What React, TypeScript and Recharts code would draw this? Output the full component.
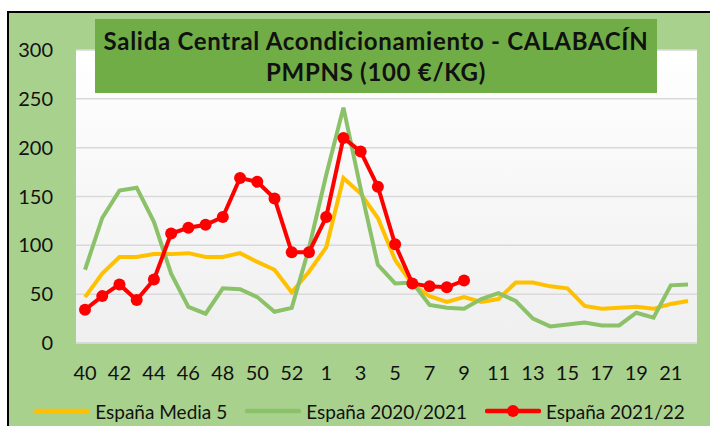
import { LineChart, Line, XAxis, YAxis, CartesianGrid, Legend } from "recharts";

const weeks = [
  "40", "41", "42", "43", "44", "45", "46", "47", "48", "49", "50", "51", "52", "53",
  "1", "2", "3", "4", "5", "6", "7", "8", "9", "10", "11", "12", "13", "14", "15",
  "16", "17", "18", "19", "20", "21", "22",
];

const media5 = [
  47, 71, 88, 88, 91, 91, 92, 88, 88, 92, 83, 75, 52, 73,
  98, 169, 153, 128, 85, 60, 48, 42, 47, 42, 45, 62, 62, 58, 56,
  38, 35, 36, 37, 35, 40, 43,
];

const season2021 = [
  75, 128, 156, 159, 124, 71, 37, 30, 56, 55, 47, 32, 36, 97,
  172, 241, 158, 80, 61, 62, 39, 36, 35, 45, 51, 43, 25, 17, 19,
  21, 18, 18, 31, 26, 59, 60,
];

const season2122 = [
  34, 48, 60, 44, 65, 112, 118, 121, 129, 169, 165, 148, 93, 93,
  129, 210, 196, 160, 101, 61, 58, 57, 64,
];

const yTicks = [0, 50, 100, 150, 200, 250, 300];

const legendOrder = ["media5", "s2021", "s2122"];

const FONT = "Lato, 'Open Sans', sans-serif";

const data = weeks.map((w, i) => ({
  week: w,
  media5: media5[i],
  s2021: season2021[i],
  s2122: i < season2122.length ? season2122[i] : null,
}));

function LegendContent({ payload }: any) {
  const items = [...(payload || [])].sort(
    (a: any, b: any) => legendOrder.indexOf(a.dataKey) - legendOrder.indexOf(b.dataKey)
  );
  return (
    <div
      style={{
        display: "flex",
        justifyContent: "center",
        alignItems: "center",
        height: 30,
        paddingLeft: 9,
        fontFamily: FONT,
        fontSize: 19,
        color: "#111",
        whiteSpace: "nowrap",
      }}
    >
      {items.map((entry: any, i: number) => (
        <div
          key={entry.value}
          style={{ display: "flex", alignItems: "center", flexShrink: 0, marginRight: i < items.length - 1 ? 18 : 0 }}
        >
          <svg width={56} height={14} style={{ marginRight: 5, flexShrink: 0 }}>
            <line x1={2} y1={7} x2={54} y2={7} stroke={entry.color} strokeWidth={4.5} strokeLinecap="round" />
            {entry.dataKey === "s2122" && <circle cx={28} cy={7} r={6} fill={entry.color} />}
          </svg>
          <span>{entry.value}</span>
        </div>
      ))}
    </div>
  );
}

export default function App() {
  return (
    <div
      style={{
        position: "absolute",
        left: 0,
        top: 0,
        width: 710,
        height: 426,
        overflow: "hidden",
        background: "#fff",
      }}
    >
      <div
        style={{
          position: "absolute",
          left: 7,
          top: 11,
          width: 720,
          height: 430,
          borderLeft: "2px solid #000",
          borderTop: "2px solid #000",
          background: "#A9D18E",
        }}
      />
      <div style={{ position: "absolute", left: 0, top: 0 }}>
        <LineChart width={710} height={426} data={data} margin={{ top: 50, right: 13, left: 0, bottom: 0 }}>
          <defs>
            <linearGradient id="plotBg" x1="0" y1="0" x2="0" y2="1">
              <stop offset="0%" stopColor="#ffffff" />
              <stop offset="100%" stopColor="#efefef" />
            </linearGradient>
          </defs>
          <CartesianGrid vertical={false} stroke="#d9d9d9" strokeWidth={1.5} fill="url(#plotBg)" />
          <XAxis
            dataKey="week"
            interval={1}
            height={53}
            padding={{ left: 9, right: 9 }}
            axisLine={{ stroke: "#d9d9d9", strokeWidth: 1.5 }}
            tickLine={false}
            tickMargin={17}
            tick={{ fontSize: 20, fill: "#111", fontFamily: FONT }}
          />
          <YAxis
            width={76}
            domain={[0, 300]}
            ticks={yTicks}
            axisLine={false}
            tickLine={false}
            tickMargin={17}
            tick={{ fontSize: 20, fill: "#111", fontFamily: FONT }}
          />
          <Legend
            verticalAlign="bottom"
            wrapperStyle={{ left: 0, width: 710 }}
            content={<LegendContent />}
          />
          <Line
            dataKey="media5"
            name="España Media 5"
            stroke="#FFC000"
            strokeWidth={4}
            dot={false}
            isAnimationActive={false}
          />
          <Line
            dataKey="s2021"
            name="España 2020/2021"
            stroke="#8BC168"
            strokeWidth={4}
            dot={false}
            isAnimationActive={false}
          />
          <Line
            dataKey="s2122"
            name="España 2021/22"
            stroke="#FF0000"
            strokeWidth={4}
            dot={{ r: 6, fill: "#FF0000", stroke: "#FF0000", strokeWidth: 0 }}
            connectNulls={false}
            isAnimationActive={false}
          />
        </LineChart>
      </div>
      <div
        style={{
          position: "absolute",
          left: 95,
          top: 19,
          width: 562,
          height: 74,
          background: "#70AD47",
          display: "flex",
          flexDirection: "column",
          justifyContent: "center",
          alignItems: "center",
          fontFamily: FONT,
          fontWeight: 700,
          fontSize: 24,
          letterSpacing: 0.7,
          lineHeight: "31px",
          color: "#111",
        }}
      >
        <div>Salida Central Acondicionamiento - CALABACÍN</div>
        <div>PMPNS (100 €/KG)</div>
      </div>
    </div>
  );
}
